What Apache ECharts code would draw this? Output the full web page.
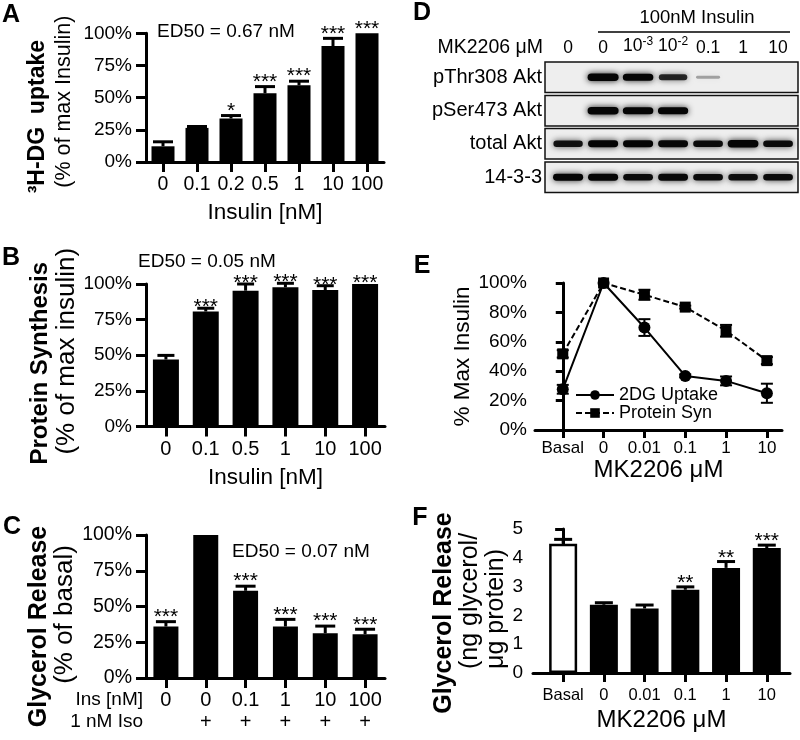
<!DOCTYPE html>
<html>
<head>
<meta charset="utf-8">
<script src="https://cdn.jsdelivr.net/npm/echarts/dist/echarts.min.js"></script>
<style>html,body{margin:0;padding:0;background:#fff}#c{width:800px;height:740px}</style>
</head>
<body>
<div id="c"></div>
<script>
// ---------- Panel A : 3H-DG uptake ----------
const catsA  = ['0', '0.1', '0.2', '0.5', '1', '10', '100'];
const meanA  = [12.2, 26.5, 33.8, 53.4, 59.6, 90.1, 100];
const semA   = [3.5, 1.1, 2.3, 5.2, 3.2, 6.0, 0];
const starsA = ['', '', '*', '***', '***', '***', '***'];

// ---------- Panel B : protein synthesis ----------
const catsB  = ['0', '0.1', '0.5', '1', '10', '100'];
const meanB  = [47.0, 80.7, 95.3, 97.7, 95.8, 100];
const semB   = [2.9, 2.3, 4.7, 2.8, 3.0, 0];
const starsB = ['', '***', '***', '***', '***', '***'];

// ---------- Panel C : glycerol release (% of basal) ----------
const insC   = ['0', '0', '0.1', '1', '10', '100'];
const isoC   = ['', '+', '+', '+', '+', '+'];
const meanC  = [36.0, 100, 61.0, 36.0, 31.3, 30.6];
const semC   = [3.4, 0, 3.2, 5.0, 5.0, 3.5];
const starsC = ['***', '', '***', '***', '***', '***'];

// ---------- Panel D : western blot ----------
const lanesD = ['0', '0', '10^-3', '10^-2', '0.1', '1', '10'];
const rowsD  = ['pThr308 Akt', 'pSer473 Akt', 'total Akt', '14-3-3'];
const bandThr308 = [0, 1.0, 0.95, 0.72, 0.22, 0, 0];
const bandSer473 = [0, 1.0, 0.95, 0.92, 0, 0, 0];
const bandTotal  = [0.82, 0.9, 0.9, 0.88, 0.86, 0.97, 0.86];
const band1433   = [0.9, 0.9, 0.86, 0.88, 0.86, 0.84, 0.86];

// ---------- Panel E : MK2206 dose response ----------
const catsE  = ['Basal', '0', '0.01', '0.1', '1', '10'];
const dgE    = [27.7, 100, 69.7, 36.8, 33.4, 25.0];
const dgErrE = [3.0, 0, 5.7, 1.0, 3.0, 6.5];
const psE    = [51.8, 100, 92.0, 83.6, 67.5, 47.2];
const psErrE = [2.5, 0, 3.4, 1.0, 4.0, 2.4];

// ---------- Panel F : glycerol release (ng/ug) ----------
const catsF  = ['Basal', '0', '0.01', '0.1', '1', '10'];
const meanF  = [4.49, 2.37, 2.24, 2.89, 3.65, 4.34];
const semF   = [0.15, 0.07, 0.12, 0.10, 0.22, 0.10];
const starsF = ['', '', '', '**', '**', '***'];

const FN = '"Liberation Sans",Arial,sans-serif';
const FS = '"Liberation Sans",Arial,sans-serif';
const BLK = '#000';

const chart = echarts.init(document.getElementById('c'), null, {renderer: 'canvas'});

const axLine = {show: true, lineStyle: {color: BLK, width: 3}};
function tick(len, extra) { return Object.assign({show: true, length: len, lineStyle: {color: BLK, width: 3}}, extra || {}); }
function lbl(size, margin, extra) { return Object.assign({fontFamily: FN, fontSize: size, color: BLK, margin: margin}, extra || {}); }

function errBar(stars, capW, lw, starOff, both) {
  return function (params, api) {
    const x = api.value(0), m = api.value(1), s = api.value(2);
    const top = api.coord([x, m + s]);
    const ch = [];
    const ls = {stroke: BLK, lineWidth: lw};
    if (s > 0) {
      const base = api.coord([x, both ? m - s : m]);
      ch.push({type: 'line', shape: {x1: top[0], y1: base[1], x2: top[0], y2: top[1]}, style: ls});
      ch.push({type: 'line', shape: {x1: top[0] - capW / 2, y1: top[1], x2: top[0] + capW / 2, y2: top[1]}, style: ls});
      if (both) ch.push({type: 'line', shape: {x1: top[0] - capW / 2, y1: base[1], x2: top[0] + capW / 2, y2: base[1]}, style: ls});
    }
    const st = stars ? stars[params.dataIndex] : '';
    if (st) {
      ch.push({type: 'text', x: top[0], y: top[1] - starOff,
        style: {text: st, fontSize: 21, fontFamily: FS, fill: BLK, align: 'center', verticalAlign: 'middle', textAlign: 'center', textVerticalAlign: 'middle'}});
    }
    return {type: 'group', children: ch};
  };
}

function bandRender(params, api) {
  const a = api.value(2);
  if (!(a > 0.02)) return null;
  const c = api.coord([api.value(0), api.value(1)]);
  const w = 22 + 9 * a, h = 1.5 + 6 * a;
  return {type: 'rect', shape: {x: c[0] - w / 2, y: c[1] - h / 2, width: w, height: h, r: h / 2},
    style: {fill: 'rgba(5,5,5,' + Math.min(1, 0.1 + a) + ')', shadowBlur: 6, shadowColor: 'rgba(0,0,0,' + (0.9 * a) + ')'}};
}

const grid = [
  {left: 146, top: 17, width: 238, height: 145},     // A
  {left: 146, top: 284, width: 239, height: 142.5},  // B
  {left: 146, top: 535, width: 239, height: 143},    // C
  {left: 535, top: 283, width: 247, height: 147},    // E
  {left: 533, top: 529, width: 257, height: 144}     // F
];

const xAxis = [
  {gridIndex: 0, type: 'category', data: catsA, axisLine: axLine, axisTick: tick(10, {alignWithLabel: true}),
   axisLabel: lbl(19.5, 13, {interval: 0}), name: 'Insulin [nM]', nameLocation: 'middle', nameGap: 39,
   nameTextStyle: {fontFamily: FS, fontSize: 22.5, color: BLK}},
  {gridIndex: 1, type: 'category', data: catsB, axisLine: axLine, axisTick: tick(10, {alignWithLabel: true}),
   axisLabel: lbl(20, 13, {interval: 0}), name: 'Insulin [nM]', nameLocation: 'middle', nameGap: 40,
   nameTextStyle: {fontFamily: FS, fontSize: 22.5, color: BLK}},
  {gridIndex: 2, type: 'category', data: insC.map(function (v, i) { return String(i); }), axisLine: axLine,
   axisTick: tick(10, {alignWithLabel: true}),
   axisLabel: lbl(20, 11, {interval: 0, lineHeight: 22, formatter: function (v, i) { return insC[i] + '\n' + isoC[i]; }})},
  {gridIndex: 3, type: 'value', min: -0.68, max: 5.37, axisLine: axLine, splitLine: {show: false},
   axisTick: tick(8, {customValues: [0, 1, 2, 3, 4, 5]}),
   axisLabel: lbl(17, 10, {customValues: [0, 1, 2, 3, 4, 5], formatter: function (v) { return catsE[Math.round(v)]; }}),
   name: 'MK2206 \u03bcM', nameLocation: 'middle', nameGap: 26, nameTextStyle: {fontFamily: FS, fontSize: 24, color: BLK}},
  {gridIndex: 4, type: 'value', min: -0.74, max: 5.57, axisLine: axLine, splitLine: {show: false},
   axisTick: tick(9, {customValues: [0, 1, 2, 3, 4, 5]}),
   axisLabel: lbl(16.5, 14, {customValues: [0, 1, 2, 3, 4, 5], formatter: function (v) { return catsF[Math.round(v)]; }}),
   name: 'MK2206 \u03bcM', nameLocation: 'middle', nameGap: 35, nameTextStyle: {fontFamily: FS, fontSize: 24, color: BLK}}
];

const yAxis = [
  {gridIndex: 0, type: 'value', min: 0, max: 100, interval: 25, axisLine: axLine, axisTick: tick(10), splitLine: {show: false},
   axisLabel: lbl(19, 14, {formatter: '{value}%'}),
   name: '{b|\u00b3H-DG  uptake}\n{n|(% of max Insulin)}', nameLocation: 'middle', nameRotate: 90, nameGap: 68,
   nameTextStyle: {color: BLK, rich: {
     b: {fontFamily: FS, fontWeight: 'bold', fontSize: 23, lineHeight: 27, padding: [0, 38, 0, 0]},
     n: {fontFamily: FS, fontSize: 21.5, lineHeight: 27, padding: [0, 8, 0, 0]}}}},
  {gridIndex: 1, type: 'value', min: 0, max: 100, interval: 25, axisLine: axLine, axisTick: tick(10), splitLine: {show: false},
   axisLabel: lbl(19, 14, {formatter: '{value}%'}),
   name: '{b|Protein Synthesis}\n{n|(% of max insulin)}', nameLocation: 'middle', nameRotate: 90, nameGap: 65,
   nameTextStyle: {color: BLK, rich: {
     b: {fontFamily: FS, fontWeight: 'bold', fontSize: 24, lineHeight: 26, padding: [0, 16, 0, 0]},
     n: {fontFamily: FS, fontSize: 26, lineHeight: 26, padding: [0, 0, 0, 8]}}}},
  {gridIndex: 2, type: 'value', min: 0, max: 100, interval: 25, axisLine: axLine, axisTick: tick(10), splitLine: {show: false},
   axisLabel: lbl(19.5, 14, {formatter: '{value}%'}),
   name: '{b|Glycerol Release}\n{n|(% of basal)}', nameLocation: 'middle', nameRotate: 90, nameGap: 63,
   nameTextStyle: {color: BLK, rich: {
     b: {fontFamily: FS, fontWeight: 'bold', fontSize: 25, lineHeight: 26, padding: [0, 40, 0, 0]},
     n: {fontFamily: FS, fontSize: 26, lineHeight: 26, padding: [0, 16, 0, 0]}}}},
  {gridIndex: 3, type: 'value', min: 0, max: 100, interval: 20, axisLine: axLine, axisTick: tick(7), splitLine: {show: false},
   axisLabel: lbl(19, 8, {formatter: '{value}%'}),
   name: '% Max Insulin', nameLocation: 'middle', nameRotate: 90, nameGap: 57,
   nameTextStyle: {fontFamily: FS, fontSize: 22.5, color: BLK}},
  {gridIndex: 4, type: 'value', min: 0, max: 5, interval: 1, axisLine: axLine, axisTick: tick(8), splitLine: {show: false},
   axisLabel: lbl(19, 10),
   name: '{b|Glycerol Release}\n{n|(ng glycerol/}\n{m|\u03bcg protein)}', nameLocation: 'middle', nameRotate: 90, nameGap: 18,
   nameTextStyle: {color: BLK, rich: {
     b: {fontFamily: FS, fontWeight: 'bold', fontSize: 25, lineHeight: 26, padding: [0, 24, 0, 0]},
     n: {fontFamily: FS, fontSize: 25, lineHeight: 26},
     m: {fontFamily: FS, fontSize: 25, lineHeight: 26, padding: [0, 16, 0, 0]}}}}
];

const series = [
  // A
  {type: 'bar', xAxisIndex: 0, yAxisIndex: 0, data: meanA, barWidth: 23, itemStyle: {color: BLK}, silent: true},
  {type: 'custom', xAxisIndex: 0, yAxisIndex: 0, z: 5, silent: true,
   data: catsA.map(function (c, i) { return [i, meanA[i], semA[i]]; }), renderItem: errBar(starsA, 20, 3, 4.5, false)},
  // B
  {type: 'bar', xAxisIndex: 1, yAxisIndex: 1, data: meanB, barWidth: 26, itemStyle: {color: BLK}, silent: true},
  {type: 'custom', xAxisIndex: 1, yAxisIndex: 1, z: 5, silent: true,
   data: catsB.map(function (c, i) { return [i, meanB[i], semB[i]]; }), renderItem: errBar(starsB, 17, 3, 1, false)},
  // C
  {type: 'bar', xAxisIndex: 2, yAxisIndex: 2, data: meanC, barWidth: 25, itemStyle: {color: BLK}, silent: true},
  {type: 'custom', xAxisIndex: 2, yAxisIndex: 2, z: 5, silent: true,
   data: insC.map(function (c, i) { return [i, meanC[i], semC[i]]; }), renderItem: errBar(starsC, 20, 3, 4.5, false)},
  // E
  {type: 'custom', xAxisIndex: 3, yAxisIndex: 3, z: 3, silent: true,
   data: catsE.map(function (c, i) { return [i, dgE[i], dgErrE[i]]; }), renderItem: errBar(null, 12, 2, 0, true)},
  {type: 'custom', xAxisIndex: 3, yAxisIndex: 3, z: 3, silent: true,
   data: catsE.map(function (c, i) { return [i, psE[i], psErrE[i]]; }), renderItem: errBar(null, 12, 2, 0, true)},
  {type: 'line', name: '2DG Uptake', xAxisIndex: 3, yAxisIndex: 3, z: 4, silent: true,
   data: catsE.map(function (c, i) { return [i, dgE[i]]; }), symbol: 'circle', symbolSize: 12,
   itemStyle: {color: BLK}, lineStyle: {color: BLK, width: 2}},
  {type: 'line', name: 'Protein Syn', xAxisIndex: 3, yAxisIndex: 3, z: 4, silent: true,
   data: catsE.map(function (c, i) { return [i, psE[i]]; }), symbol: 'rect', symbolSize: 11,
   itemStyle: {color: BLK}, lineStyle: {color: BLK, width: 2, type: [6, 3]}},
  // F
  {type: 'bar', xAxisIndex: 4, yAxisIndex: 4, barWidth: 28, itemStyle: {color: BLK}, silent: true,
   data: meanF.map(function (v, i) {
     return i === 0 ? {value: [i, v], itemStyle: {color: '#fff', borderColor: BLK, borderWidth: 2.5}} : [i, v];
   })},
  {type: 'custom', xAxisIndex: 4, yAxisIndex: 4, z: 5, silent: true,
   data: catsF.map(function (c, i) { return [i, meanF[i], semF[i]]; }), renderItem: errBar(starsF, 18, 3, 3.5, false)}
];

// D : blot strips, one grid each
const bandsD = [bandThr308, bandSer473, bandTotal, band1433];
const blotTops = [62, 95.5, 128.5, 162];
rowsD.forEach(function (row, r) {
  const gi = 5 + r;
  grid.push({left: 545, top: blotTops[r], width: 253, height: 30.5, show: true,
    borderColor: '#111', borderWidth: 1.5, backgroundColor: '#eeeeee'});
  xAxis.push({gridIndex: gi, type: 'value', min: -0.66, max: 6.57, position: 'top', show: r === 0,
    axisLine: {show: false}, axisTick: {show: false}, splitLine: {show: false},
    axisLabel: r === 0 ? {customValues: [0, 1, 2, 3, 4, 5, 6], fontFamily: FN, fontSize: 17.5, color: BLK, margin: 5,
      formatter: function (v) {
        const s = lanesD[Math.round(v)];
        const k = s.indexOf('^');
        return k < 0 ? s : s.slice(0, k) + '{s|' + s.slice(k + 1) + '}';
      },
      rich: {s: {fontFamily: FN, fontSize: 12, color: BLK, padding: [0, 0, 9, 0]}}} : {show: false}});
  yAxis.push({gridIndex: gi, type: 'category', data: [row], axisLine: {show: false}, axisTick: {show: false},
    splitLine: {show: false}, axisLabel: {fontFamily: FS, fontSize: 20, color: BLK, margin: 3}});
  series.push({type: 'custom', xAxisIndex: gi, yAxisIndex: gi, silent: true, clip: true,
    data: bandsD[r].map(function (v, i) { return [i, 0, v]; }), renderItem: bandRender});
});

function txt(t, x, y, size, opt) {
  opt = opt || {};
  return {type: 'text', x: x, y: y, silent: true, z: 10, style: {
    text: t, fontSize: size, fontFamily: opt.family || FS, fontWeight: opt.bold ? 'bold' : 'normal', fill: BLK,
    align: opt.align || 'left', verticalAlign: 'middle', textAlign: opt.align || 'left', textVerticalAlign: 'middle'}};
}

const graphic = [
  txt('A', 11, 15, 25, {bold: true, align: 'center'}),
  txt('B', 11, 258, 25, {bold: true, align: 'center'}),
  txt('C', 12, 527, 25, {bold: true, align: 'center'}),
  txt('D', 422, 13, 25, {bold: true, align: 'center'}),
  txt('E', 422, 266, 25, {bold: true, align: 'center'}),
  txt('F', 420, 518, 25, {bold: true, align: 'center'}),
  txt('ED50 = 0.67 nM', 157, 32, 19),
  txt('ED50 = 0.05 nM', 138, 262, 19),
  txt('ED50 = 0.07 nM', 232, 552, 19),
  txt('Ins [nM]', 143, 700, 19, {align: 'right', family: FN}),
  txt('1 nM Iso', 143, 722, 19, {align: 'right', family: FN}),
  txt('100nM Insulin', 697, 18, 18.5, {align: 'center'}),
  txt('MK2206 \u03bcM', 543, 48, 19.5, {align: 'right'}),
  {type: 'line', silent: true, shape: {x1: 598, y1: 32, x2: 790, y2: 32}, style: {stroke: BLK, lineWidth: 1.5}}
];

chart.setOption({
  animation: false,
  backgroundColor: '#fff',
  grid: grid, xAxis: xAxis, yAxis: yAxis, series: series, graphic: graphic,
  legend: {data: ['2DG Uptake', 'Protein Syn'], orient: 'vertical', left: 575, top: 386, padding: 0,
    itemWidth: 38, itemHeight: 12, itemGap: 0, selectedMode: false,
    textStyle: {fontFamily: FN, fontSize: 18, color: BLK, lineHeight: 18}}
});
</script>
</body>
</html>
